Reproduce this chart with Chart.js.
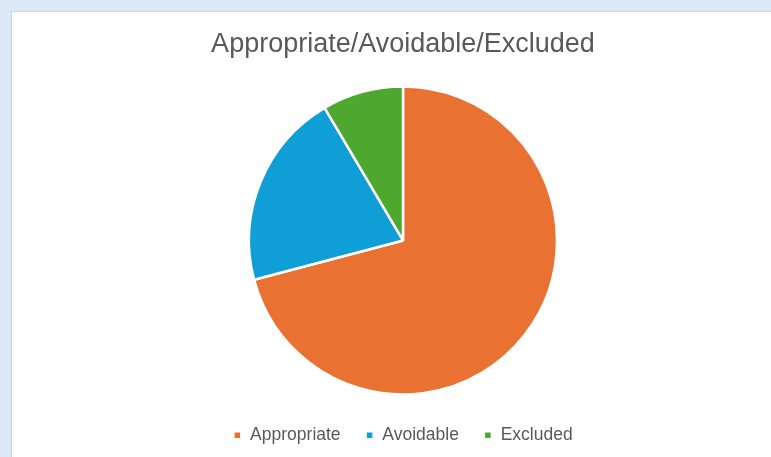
<!DOCTYPE html>
<html>
<head>
<meta charset="utf-8">
<script src="https://cdn.jsdelivr.net/npm/chart.js@4.4.1/dist/chart.umd.min.js"></script>
<style>
  html, body { margin: 0; padding: 0; overflow: hidden; }
  body { width: 771px; height: 457px; background: #dbe8f5; position: relative; }
  #panel {
    position: absolute; left: 11px; top: 11px; right: 0; bottom: 0;
    background: #ffffff;
    border-top: 1px solid #d2d2d2;
    border-left: 1px solid #d2d2d2;
  }
  #pie { position: absolute; left: 0; top: 0; }
</style>
</head>
<body>
<div id="panel"></div>
<canvas id="pie" width="806" height="454"></canvas>
<script>
// Share of cases per category (percent)
const categories = ['Appropriate', 'Avoidable', 'Excluded'];
const shares = [70.9, 20.6, 8.5];
const sliceColors = ['#e97132', '#0f9ed5', '#4ea72e'];
const chartTitle = 'Appropriate/Avoidable/Excluded';

const ctx = document.getElementById('pie');
new Chart(ctx, {
  type: 'pie',
  data: {
    labels: categories,
    datasets: [{
      data: shares,
      backgroundColor: sliceColors,
      borderColor: '#ffffff',
      borderWidth: 2.5
    }]
  },
  options: {
    responsive: false,
    animation: false,
    radius: 154,
    layout: { padding: 0 },
    plugins: {
      title: {
        display: true,
        text: chartTitle,
        color: '#595959',
        font: { family: '"Liberation Sans", Arial, sans-serif', size: 27, weight: 'normal' },
        padding: { top: 28, bottom: 19 }
      },
      legend: {
        position: 'bottom',
        labels: {
          color: '#595959',
          font: { family: '"Liberation Sans", Arial, sans-serif', size: 17.5 },
          boxWidth: 8,
          boxHeight: 8,
          padding: 25
        }
      },
      tooltip: { enabled: false }
    }
  }
});
</script>
</body>
</html>
